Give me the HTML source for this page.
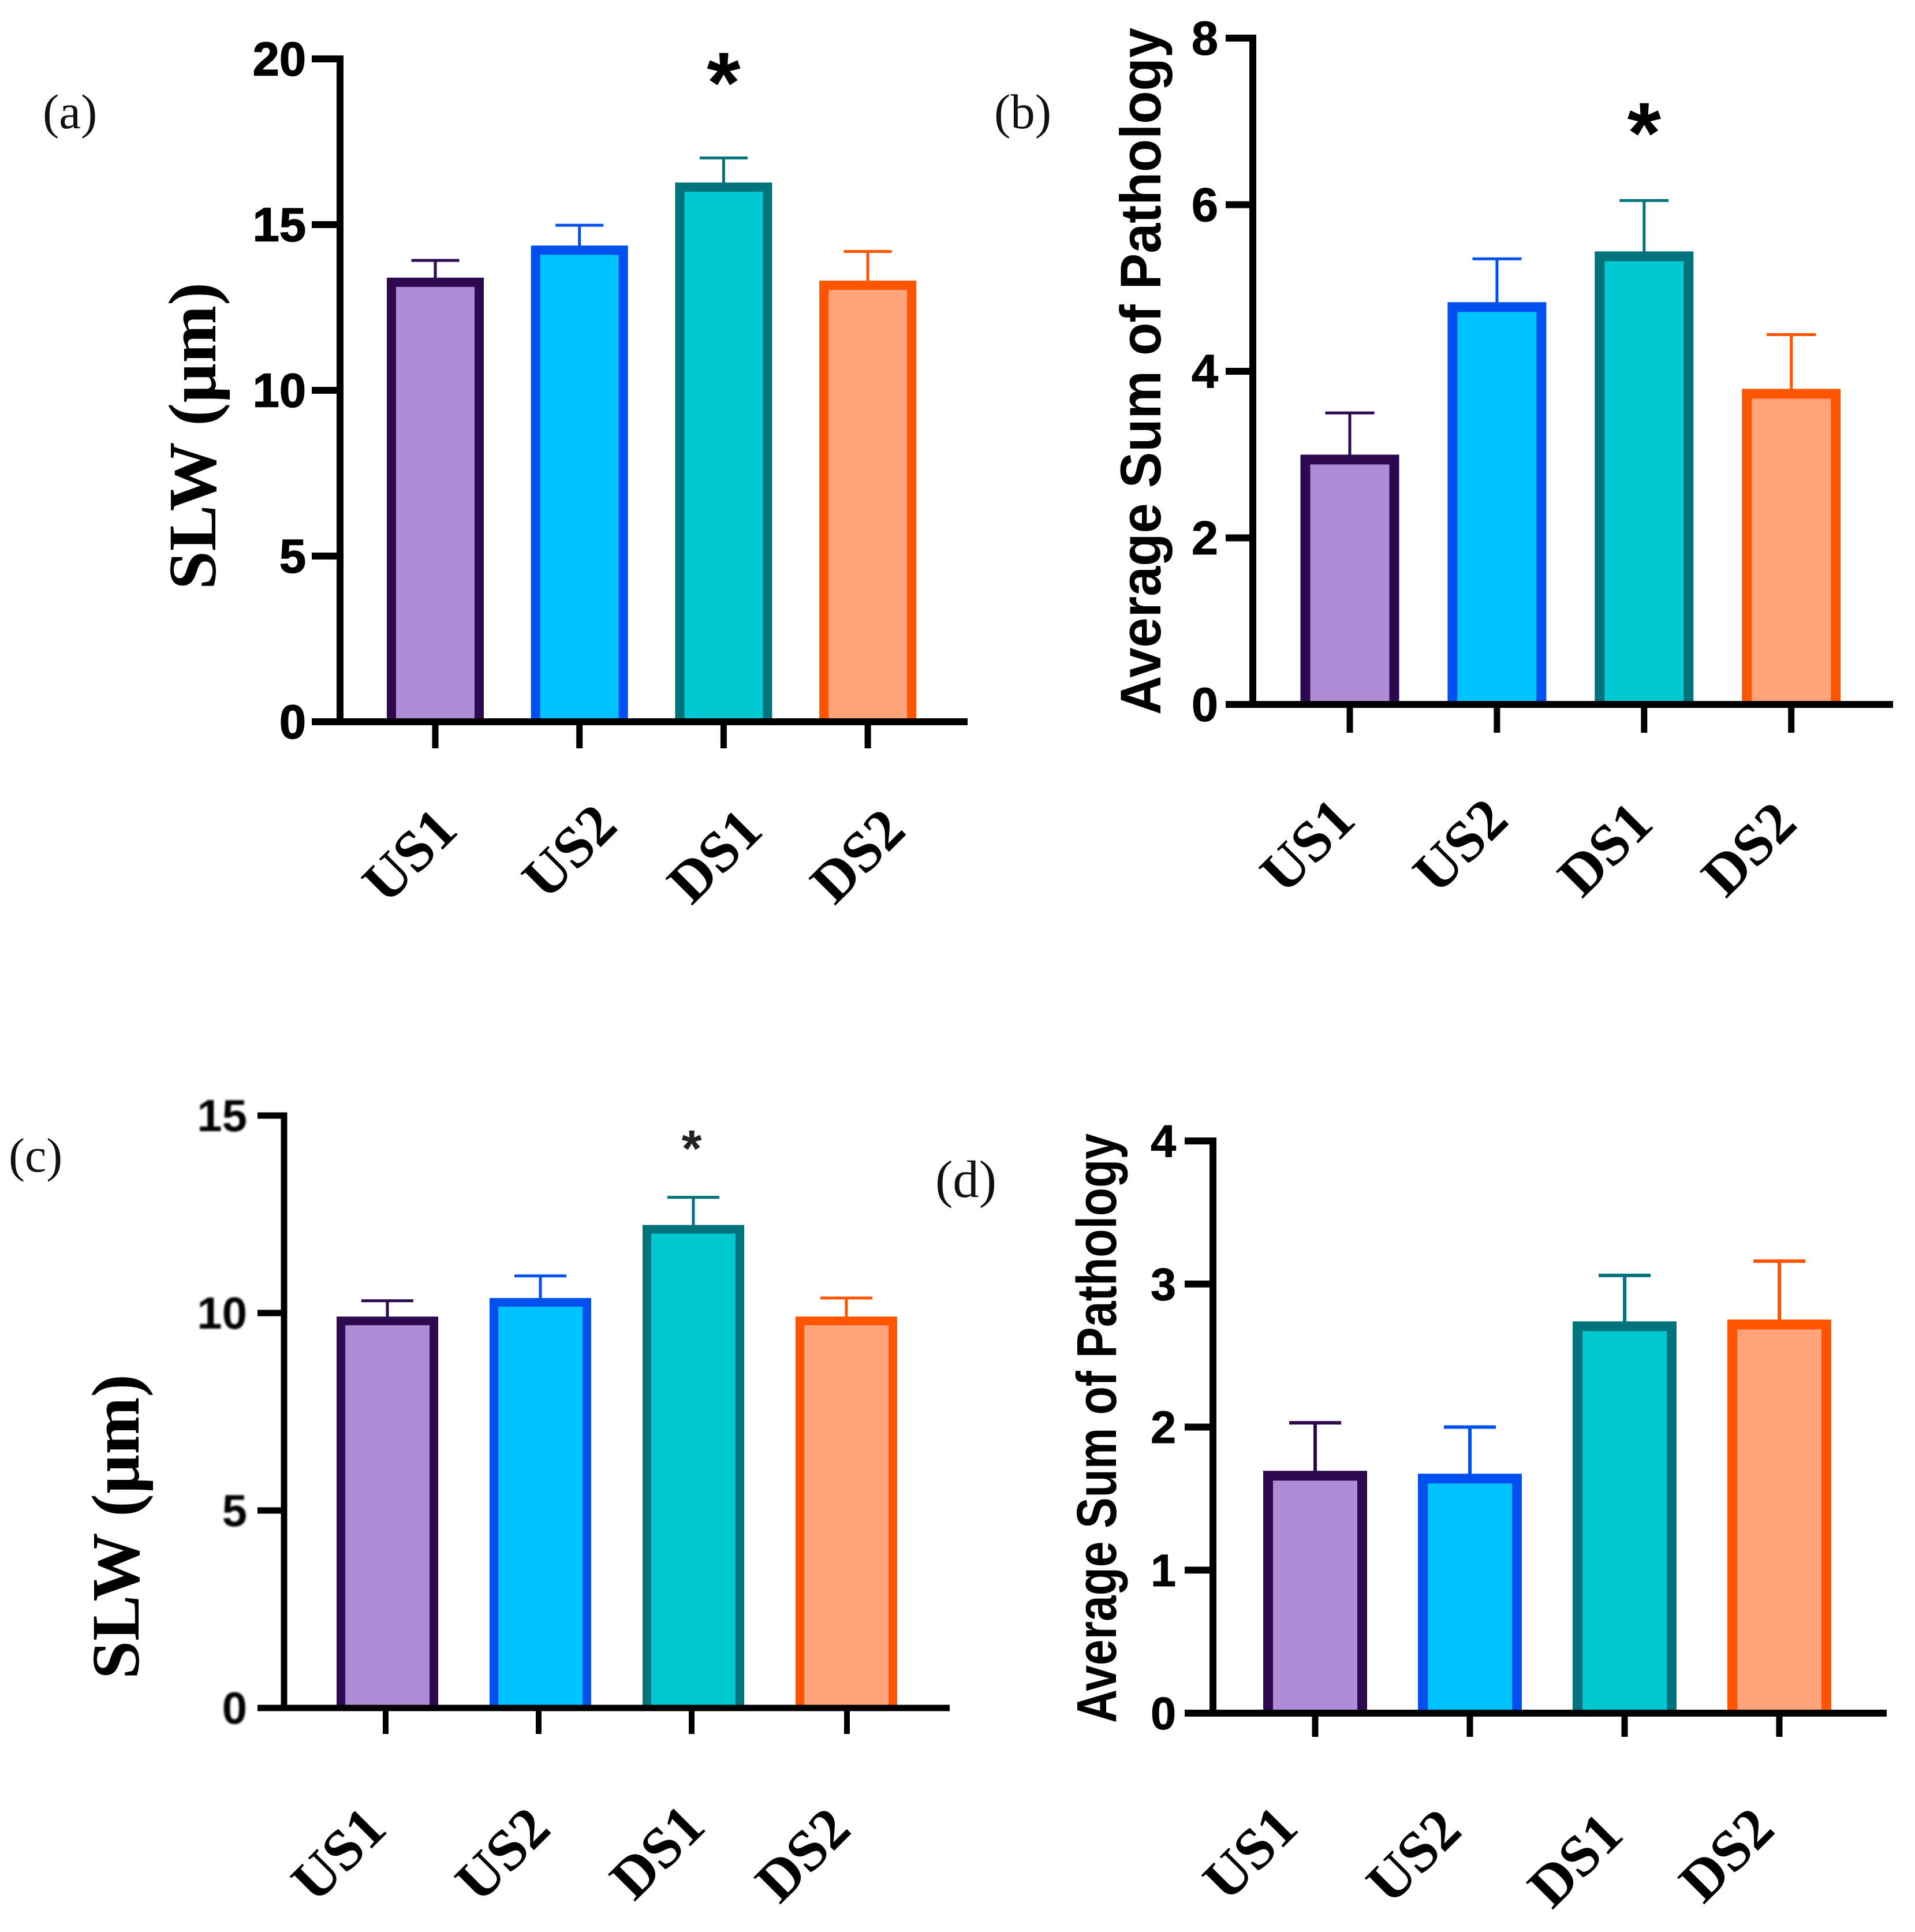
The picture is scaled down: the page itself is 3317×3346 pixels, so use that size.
<!DOCTYPE html>
<html lang="en">
<head>
<meta charset="utf-8">
<title>SLW and Pathology bar charts</title>
<style>
html,body{margin:0;padding:0;background:#fff;width:3317px;height:3346px;overflow:hidden}
svg{display:block}
</style>
</head>
<body>
<svg id="chart" xmlns="http://www.w3.org/2000/svg" width="3317" height="3346" viewBox="0 0 3317 3346">
<defs><filter id="soft" x="-10%" y="-10%" width="120%" height="120%"><feGaussianBlur stdDeviation="1.6"/></filter></defs>
<rect width="3317" height="3346" fill="#fff"/>
</svg>
<script>
const categories = ['US1', 'US2', 'DS1', 'DS2'];

const panelAValues = [13.26, 14.23, 16.13, 13.17];
const panelAUpper = [13.92, 14.98, 17.01, 14.19];
const panelATicks = [0, 5, 10, 15, 20];

const panelBValues = [2.94, 4.77, 5.38, 3.73];
const panelBUpper = [3.50, 5.35, 6.05, 4.44];
const panelBTicks = [0, 2, 4, 6, 8];

const panelCValues = [9.80, 10.27, 12.12, 9.80];
const panelCUpper = [10.31, 10.94, 12.93, 10.38];
const panelCTicks = [0, 5, 10, 15];

const panelDValues = [1.66, 1.64, 2.705, 2.717];
const panelDUpper = [2.03, 2.00, 3.06, 3.16];
const panelDTicks = [0, 1, 2, 3, 4];

const fills = ['#AF8CD6', '#00C3FF', '#00C8D0', '#FFA27A'];
const strokes = ['#2D0A50', '#0050F0', '#00737D', '#FF5500'];

const SVGNS = 'http://www.w3.org/2000/svg';
const root = document.getElementById('chart');

function make(parent, tag, attrs, text) {
  const el = document.createElementNS(SVGNS, tag);
  for (const k in attrs) el.setAttribute(k, attrs[k]);
  if (text !== undefined) el.textContent = text;
  parent.appendChild(el);
  return el;
}

function drawPanel(p) {
  const g = make(root, 'g', {});
  
  

  const yMax = p.ticks[p.ticks.length - 1];
  const yScale = function (v) { return p.y0 - (v / yMax) * (p.y0 - p.yTop); };
  const xScale = function (i) { return p.x0 + i * p.step; };

  categories.forEach(function (c, i) {
    const cx = xScale(i);
    const top = yScale(p.values[i]);
    const capY = yScale(p.upper[i]);

    const stem = make(g, 'line', {x1: cx, x2: cx, y1: top, y2: capY, stroke: strokes[i], 'stroke-width': p.errW});
    
    

    const cap = make(g, 'line', {x1: cx - p.capW / 2, x2: cx + p.capW / 2, y1: capY, y2: capY, stroke: strokes[i], 'stroke-width': p.errW});
    
    

    const left = cx - p.barW / 2;
    const right = cx + p.barW / 2;
    const bar = make(g, 'path', {
      d: 'M' + left + ' ' + p.y0 + 'V' + top + 'H' + right + 'V' + p.y0,
      fill: fills[i], stroke: strokes[i], 'stroke-width': p.barS, 'stroke-linejoin': 'miter'
    });
    
    

    const tx0 = cx + p.tickDx[i];
    const tick = make(g, 'line', {x1: tx0, x2: tx0, y1: p.y0, y2: p.tickEnd, stroke: '#000', 'stroke-width': p.axisW - 1});
    
    

    const lx = cx + p.labelDx[i];
    const ly = p.labelY + p.labelDy[i];
    const lab = make(g, 'text', {
      x: lx, y: ly, transform: 'rotate(-45 ' + lx + ' ' + ly + ')',
      'text-anchor': 'middle', 'dominant-baseline': 'central',
      'font-family': '"Liberation Serif", serif', 'font-weight': 'bold', 'font-size': p.labelFs, fill: '#000'
    }, c);
    
    
  });

  const tickGroup = make(g, 'g', p.blurTicks ? {filter: 'url(#soft)'} : {});
  p.ticks.forEach(function (t) {
    const y = yScale(t);
    const mark = make(g, 'line', {x1: p.axisLeft, x2: p.axisX, y1: y, y2: y, stroke: '#000', 'stroke-width': p.axisW});
    
    

    const tl = make(tickGroup, 'text', {
      x: p.tickRight, y: y, 'text-anchor': 'end', 'dominant-baseline': 'central',
      'font-family': '"Liberation Sans", sans-serif', 'font-weight': 'bold', 'font-size': p.tickFs, fill: '#000',
      stroke: '#000', 'stroke-width': p.tickStroke
    }, String(t));
    
    
  });

  const yAxis = make(g, 'line', {x1: p.axisX, x2: p.axisX, y1: p.yTop - p.axisW / 2, y2: p.y0 + p.axisW / 2, stroke: '#000', 'stroke-width': p.axisW});
  
  

  const xAxis = make(g, 'line', {x1: p.axisLeft, x2: p.axisRight, y1: p.y0, y2: p.y0, stroke: '#000', 'stroke-width': p.axisW});
  
  

  const tx = p.titleX;
  const ty = p.titleBottom;
  const title = make(g, 'text', {
    x: tx, y: ty, transform: 'rotate(-90 ' + tx + ' ' + ty + ')',
    'font-family': p.titleFont, 'font-weight': 'bold', 'font-size': p.titleFs, fill: '#000',
    textLength: p.titleLen, lengthAdjust: 'spacingAndGlyphs'
  }, p.title);
  
  

  const tag = make(g, 'text', {
    x: p.tagX, y: p.tagY, 'font-family': '"Liberation Serif", serif', 'font-size': p.tagFs, fill: '#111'
  }, '(' + p.key + ')');
  
  

  if (p.starFs) {
    const star = make(g, 'text', {
      x: p.x0 + 2 * p.step + p.starDx, y: p.starY, 'text-anchor': 'middle',
      'font-family': '"Liberation Sans", sans-serif', 'font-weight': 'bold', 'font-size': p.starFs, fill: p.starFill
    }, '*');
    
    
  }
}

const serifFont = '"Liberation Serif", serif';
const sansFont = '"Liberation Sans", sans-serif';

drawPanel({key: 'a', values: panelAValues, upper: panelAUpper, ticks: panelATicks,
  axisX: 589, axisLeft: 540, axisRight: 1676, y0: 1250, yTop: 102, x0: 754, step: 249.7,
  barW: 152, barS: 16, errW: 5, capW: 83, axisW: 12, tickEnd: 1296, tickDx: [0, 0, 0, 0],
  tickRight: 530, tickFs: 83, tickStroke: 1.5, labelFs: 101, labelDx: [-45, -18, -16, -18], labelDy: [0, -7, 1, 1], labelY: 1481,
  title: 'SLW  (µm)', titleFont: serifFont, titleFs: 118, titleX: 373, titleBottom: 1021, titleLen: 532,
  tagX: 74, tagY: 222, tagFs: 85, starFs: 150, starY: 195, starDx: 0, starFill: '#000'});

drawPanel({key: 'b', values: panelBValues, upper: panelBUpper, ticks: panelBTicks,
  axisX: 2170, axisLeft: 2123, axisRight: 3279, y0: 1220, yTop: 66, x0: 2338, step: 254.9,
  barW: 154, barS: 17, errW: 5, capW: 85, axisW: 12, tickEnd: 1269, tickDx: [0, 0, 0, 0],
  tickRight: 2110, tickFs: 83, tickStroke: 1, labelFs: 101, labelDx: [-74, -64, -68, -74], labelDy: [0, 0, 6, 6], labelY: 1464,
  title: 'Average Sum of Pathology', titleFont: sansFont, titleFs: 99, titleX: 2010, titleBottom: 1238, titleLen: 1190,
  tagX: 1722, tagY: 222, tagFs: 85, starFs: 150, starY: 282, starDx: 0, starFill: '#000'});

drawPanel({key: 'c', values: panelCValues, upper: panelCUpper, ticks: panelCTicks,
  axisX: 492, axisLeft: 446, axisRight: 1645, y0: 2958, yTop: 1932, x0: 671, step: 265,
  barW: 161, barS: 15, errW: 5, capW: 90, axisW: 11, tickEnd: 3003, tickDx: [-3, -3, -3, 1],
  tickRight: 428, tickFs: 78, tickStroke: 0, blurTicks: true, labelFs: 101, labelDx: [-85, -66, -63, -76], labelDy: [0, 0, -4, 1], labelY: 3211,
  title: 'SLW (µm)', titleFont: serifFont, titleFs: 118, titleX: 240, titleBottom: 2908, titleLen: 528,
  tagX: 15, tagY: 2029, tagFs: 84, starFs: 90, starY: 2020, starDx: -3, starFill: '#222'});

drawPanel({key: 'd', values: panelDValues, upper: panelDUpper, ticks: panelDTicks,
  axisX: 2101, axisLeft: 2052, axisRight: 3268, y0: 2967, yTop: 1976, x0: 2278, step: 268,
  barW: 163, barS: 17, errW: 6, capW: 90, axisW: 12, tickEnd: 3008, tickDx: [0, 0, 0, 0],
  tickRight: 2037, tickFs: 79, tickStroke: 1, labelFs: 101, labelDx: [-113, -98, -86, -92], labelDy: [0, 5, 12, 3], labelY: 3209,
  title: 'Average Sum of Pathology', titleFont: sansFont, titleFs: 97, titleX: 1933, titleBottom: 2984, titleLen: 1021,
  tagX: 1620, tagY: 2073, tagFs: 91});
</script>
</body>
</html>
